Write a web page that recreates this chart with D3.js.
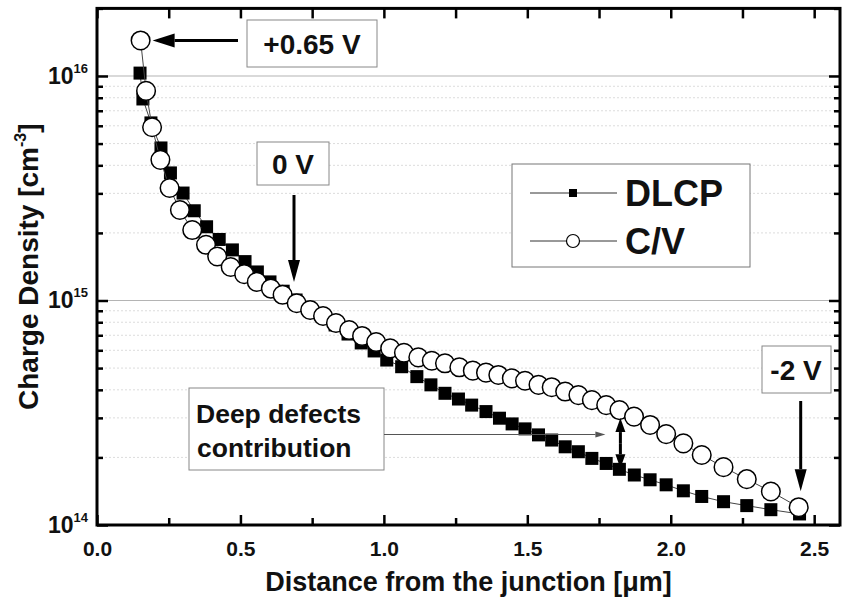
<!DOCTYPE html>
<html>
<head>
<meta charset="utf-8">
<script src="https://cdn.jsdelivr.net/npm/d3@7"></script>
<style>
  html, body { margin: 0; padding: 0; background: #fff; }
  svg { display: block; }
  text { font-family: "Liberation Sans", Arial, sans-serif; font-weight: bold; fill: #111; }
</style>
</head>
<body>
<svg id="chart" width="842" height="603"></svg>
<script>
// Distance from the junction [µm] and charge density [cm^-3]
const dlcpX = [0.150, 0.160, 0.188, 0.223, 0.256, 0.300, 0.339, 0.382, 0.426, 0.472,
  0.516, 0.559, 0.603, 0.649, 0.694, 0.739, 0.785, 0.830, 0.875, 0.921,
  0.966, 1.010, 1.062, 1.115, 1.164, 1.213, 1.260, 1.306, 1.356, 1.403,
  1.447, 1.492, 1.539, 1.585, 1.632, 1.678, 1.725, 1.775, 1.821, 1.873,
  1.928, 1.984, 2.044, 2.108, 2.184, 2.265, 2.349, 2.449];
const dlcpN = [1.03e16, 7.90e15, 6.18e15, 4.78e15, 3.70e15, 3.01e15, 2.51e15, 2.13e15, 1.87e15, 1.68e15,
  1.49e15, 1.34e15, 1.21e15, 1.10e15, 1.005e15, 9.26e14, 8.53e14, 7.78e14, 7.09e14, 6.47e14,
  5.96e14, 5.43e14, 5.07e14, 4.58e14, 4.21e14, 3.86e14, 3.64e14, 3.42e14, 3.20e14, 2.99e14,
  2.82e14, 2.68e14, 2.52e14, 2.39e14, 2.23e14, 2.12e14, 1.98e14, 1.88e14, 1.77e14, 1.67e14,
  1.59e14, 1.51e14, 1.42e14, 1.34e14, 1.27e14, 1.22e14, 1.17e14, 1.12e14];

const cvX = [0.152, 0.171, 0.192, 0.221, 0.253, 0.289, 0.332, 0.380, 0.419, 0.466,
  0.513, 0.557, 0.606, 0.647, 0.696, 0.743, 0.788, 0.833, 0.879, 0.924,
  0.973, 1.022, 1.070, 1.120, 1.167, 1.213, 1.263, 1.310, 1.356, 1.399,
  1.446, 1.492, 1.539, 1.585, 1.632, 1.678, 1.725, 1.775, 1.821, 1.872,
  1.928, 1.984, 2.044, 2.108, 2.184, 2.265, 2.349, 2.446];
const cvN = [1.44e16, 8.58e15, 5.91e15, 4.23e15, 3.17e15, 2.53e15, 2.06e15, 1.77e15, 1.57e15, 1.41e15,
  1.31e15, 1.21e15, 1.13e15, 1.06e15, 9.72e14, 9.07e14, 8.53e14, 7.94e14, 7.39e14, 6.95e14,
  6.53e14, 6.12e14, 5.85e14, 5.58e14, 5.39e14, 5.25e14, 5.04e14, 4.87e14, 4.77e14, 4.66e14,
  4.50e14, 4.39e14, 4.21e14, 4.11e14, 3.93e14, 3.79e14, 3.60e14, 3.42e14, 3.25e14, 3.04e14,
  2.79e14, 2.54e14, 2.31e14, 2.05e14, 1.81e14, 1.60e14, 1.41e14, 1.20e14];

const xTicks = [0.0, 0.5, 1.0, 1.5, 2.0, 2.5];
const xMinorTicks = [0.25, 0.75, 1.25, 1.75, 2.25];
const yDecades = [1e14, 1e15, 1e16];
const yExponents = ["14", "15", "16"];
const seriesNames = ["DLCP", "C/V"];

const svg = d3.select("#chart");
const plotLeft = 97, plotRight = 840, plotTop = 8.4, plotBottom = 525;

const x = d3.scaleLinear().domain([0, 2.59]).range([plotLeft, plotRight]);
const y = d3.scaleLog().domain([1e14, 2e16]).range([plotBottom, plotTop]);

// minor decade positions 2..9 × 10^n inside the domain
const yMinor = [];
[1e14, 1e15, 1e16].forEach(d => {
  for (let k = 2; k <= 9; k++) { const v = k * d; if (v <= 2e16) yMinor.push(v); }
});

// grid
const grid = svg.append("g");
grid.selectAll("line.minor").data(yMinor).join("line")
  .attr("x1", plotLeft).attr("x2", plotRight)
  .attr("y1", d => y(d)).attr("y2", d => y(d))
  .attr("stroke", "#dcdcdc").attr("stroke-width", 1).attr("stroke-dasharray", "2,2");
grid.selectAll("line.major").data([1e15, 1e16]).join("line")
  .attr("x1", plotLeft).attr("x2", plotRight)
  .attr("y1", d => y(d)).attr("y2", d => y(d))
  .attr("stroke", "#b4b4b4").attr("stroke-width", 1.2);

// series
const dlcp = dlcpX.map((d, i) => [d, dlcpN[i]]);
const cv = cvX.map((d, i) => [d, cvN[i]]);
const line = d3.line().x(d => x(d[0])).y(d => y(d[1]));

svg.append("path").datum(dlcp).attr("d", line)
  .attr("fill", "none").attr("stroke", "#444").attr("stroke-width", 1);
svg.append("g").selectAll("rect").data(dlcp).join("rect")
  .attr("x", d => x(d[0]) - 6.5).attr("y", d => y(d[1]) - 6.5)
  .attr("width", 13).attr("height", 13).attr("fill", "#000");

svg.append("path").datum(cv).attr("d", line)
  .attr("fill", "none").attr("stroke", "#444").attr("stroke-width", 1);
svg.append("g").selectAll("circle").data(cv).join("circle")
  .attr("cx", d => x(d[0])).attr("cy", d => y(d[1])).attr("r", 9.3)
  .attr("fill", "#fff").attr("stroke", "#000").attr("stroke-width", 1.5);

// frame and ticks
const axes = svg.append("g");
const bottomAxis = d3.axisBottom(x).tickValues(xTicks).tickSize(-10).tickPadding(16)
  .tickFormat(d3.format(".1f"));
axes.append("g").attr("transform", `translate(0,${plotBottom})`).call(bottomAxis)
  .call(g => g.select(".domain").remove())
  .call(g => g.selectAll("line").attr("stroke", "#000").attr("stroke-width", 2.5))
  .call(g => g.selectAll("text").attr("font-size", 21).attr("font-family", "Liberation Sans, Arial, sans-serif")
    .attr("font-weight", "bold").attr("fill", "#111").attr("dy", "0.71em"));
axes.append("g").attr("transform", `translate(0,${plotBottom})`)
  .call(d3.axisBottom(x).tickValues(xMinorTicks).tickSize(-7).tickFormat(""))
  .call(g => g.select(".domain").remove())
  .call(g => g.selectAll("line").attr("stroke", "#000").attr("stroke-width", 2.5));
axes.append("g").attr("transform", `translate(0,${plotTop})`)
  .call(d3.axisTop(x).tickValues(xTicks.concat(xMinorTicks)).tickSize(-10).tickFormat(""))
  .call(g => g.select(".domain").remove())
  .call(g => g.selectAll("line").attr("stroke", "#000").attr("stroke-width", 2.5));

[[plotLeft, d3.axisLeft], [plotRight, d3.axisRight]].forEach(([px, ax]) => {
  axes.append("g").attr("transform", `translate(${px},0)`)
    .call(ax(y).tickValues(yDecades).tickSize(-11).tickFormat(""))
    .call(g => g.select(".domain").remove())
    .call(g => g.selectAll("line").attr("stroke", "#000").attr("stroke-width", 2.5));
  axes.append("g").attr("transform", `translate(${px},0)`)
    .call(ax(y).tickValues(yMinor).tickSize(-6).tickFormat(""))
    .call(g => g.select(".domain").remove())
    .call(g => g.selectAll("line").attr("stroke", "#000").attr("stroke-width", 2.5));
});

svg.append("rect").attr("x", plotLeft).attr("y", plotTop)
  .attr("width", plotRight - plotLeft).attr("height", plotBottom - plotTop)
  .attr("fill", "none").attr("stroke", "#000").attr("stroke-width", 3);

// y tick labels 10^n
const yl = svg.append("g").selectAll("text").data(yDecades).join("text")
  .attr("x", 88).attr("y", d => y(d) + 8).attr("text-anchor", "end");
yl.append("tspan").attr("font-size", 23).text("10");
yl.append("tspan").attr("font-size", 13).attr("dy", -11).text((d, i) => yExponents[i]);

// axis titles
svg.append("text").attr("x", (plotLeft + plotRight) / 2).attr("y", 591)
  .attr("text-anchor", "middle").attr("font-size", 27)
  .text("Distance from the junction [μm]");
const yt = svg.append("text").attr("transform", `translate(38,${(plotTop + plotBottom) / 2}) rotate(-90)`)
  .attr("text-anchor", "middle").attr("font-size", 28);
yt.append("tspan").text("Charge Density [cm");
yt.append("tspan").attr("font-size", 16).attr("dy", -12).text("-3");
yt.append("tspan").attr("dy", 12).text("]");

// legend
const lg = svg.append("g");
lg.append("rect").attr("x", 512).attr("y", 164).attr("width", 238).attr("height", 103)
  .attr("fill", "#fff").attr("stroke", "#777").attr("stroke-width", 1);
[193, 241].forEach((ly, i) => {
  lg.append("line").attr("x1", 530).attr("x2", 617).attr("y1", ly).attr("y2", ly)
    .attr("stroke", "#333").attr("stroke-width", 1);
  if (i === 0) {
    lg.append("rect").attr("x", 569).attr("y", ly - 4).attr("width", 8).attr("height", 8).attr("fill", "#000");
  } else {
    lg.append("circle").attr("cx", 573).attr("cy", ly).attr("r", 6.5)
      .attr("fill", "#fff").attr("stroke", "#000").attr("stroke-width", 1.2);
  }
  lg.append("text").attr("x", 625).attr("y", ly + 12.5).attr("font-size", 36).text(seriesNames[i]);
});

// annotations
const ann = svg.append("g");
function box(x0, y0, w, h) {
  ann.append("rect").attr("x", x0).attr("y", y0).attr("width", w).attr("height", h)
    .attr("fill", "#fff").attr("stroke", "#888").attr("stroke-width", 1);
}
function arrow(x1, y1, x2, y2, width, headLen, headHalf, color) {
  const ang = Math.atan2(y2 - y1, x2 - x1);
  const bx = x2 - headLen * Math.cos(ang), by = y2 - headLen * Math.sin(ang);
  ann.append("line").attr("x1", x1).attr("y1", y1).attr("x2", bx).attr("y2", by)
    .attr("stroke", color).attr("stroke-width", width);
  const px = -Math.sin(ang) * headHalf, py = Math.cos(ang) * headHalf;
  ann.append("path")
    .attr("d", `M${x2},${y2}L${bx + px},${by + py}L${bx - px},${by - py}Z`)
    .attr("fill", color);
}

// +0.65 V pointing at the first C/V point
box(247, 20, 130, 47);
ann.append("text").attr("x", 312).attr("y", 53.5).attr("text-anchor", "middle").attr("font-size", 28).text("+0.65 V");
arrow(238, y(cvN[0]), x(cvX[0]) + 12, y(cvN[0]), 3, 22, 7, "#000");

// 0 V
box(257, 142, 72, 43);
ann.append("text").attr("x", 293).attr("y", 173.5).attr("text-anchor", "middle").attr("font-size", 28).text("0 V");
arrow(294, 195, 294, 282, 3, 22, 6, "#000");

// -2 V pointing at the last C/V point
box(762, 346, 69, 47);
ann.append("text").attr("x", 796).attr("y", 379.5).attr("text-anchor", "middle").attr("font-size", 28).text("-2 V");
arrow(x(cvX[cvX.length - 1]) + 2, 401, x(cvX[cvX.length - 1]) + 2, y(cvN[cvN.length - 1]) - 16, 3, 22, 6, "#000");

// deep defects: gap between the two curves at the same depth
const gi = 38;
box(189, 388, 195, 82);
const dd = ann.append("text").attr("font-size", 26.5);
dd.append("tspan").attr("x", 196).attr("y", 423).text("Deep defects");
dd.append("tspan").attr("x", 197).attr("y", 457).text("contribution");
arrow(384, 434.5, x(cvX[gi]) - 14, 434.5, 1, 10, 3, "#555");
const gx = x(cvX[gi]) + 1;
const gTop = y(cvN[gi]) + 8, gBot = y(dlcpN[gi]) - 1;
const gMid = (gTop + gBot) / 2;
arrow(gx, gMid, gx, gTop, 3, 14, 5, "#000");
arrow(gx, gMid, gx, gBot, 3, 14, 5, "#000");
</script>
</body>
</html>
